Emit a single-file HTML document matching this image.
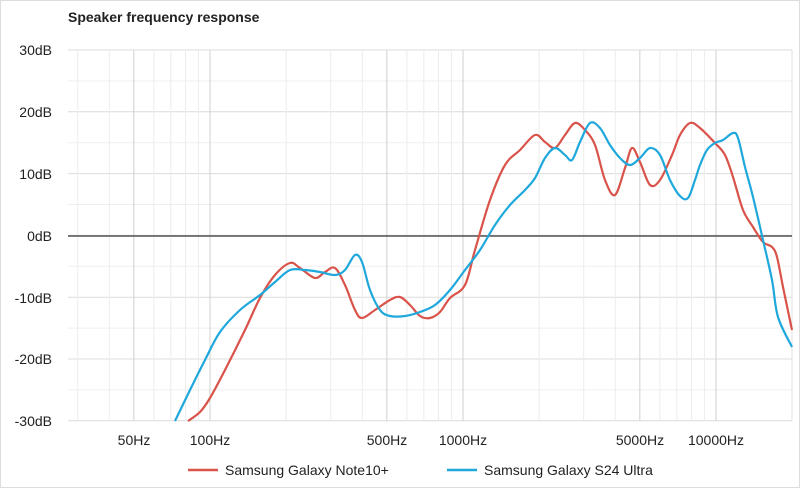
<!DOCTYPE html>
<html><head><meta charset="utf-8"><style>
body{margin:0;background:#fff}
svg{display:block;font-family:"Liberation Sans",Arial,sans-serif}
</style></head><body>
<svg width="800" height="488" viewBox="0 0 800 488">
<rect x="0" y="0" width="800" height="488" fill="#fff"/>
<rect x="0.5" y="0.5" width="799" height="487" fill="none" stroke="#ddd"/>
<text x="68" y="22" font-size="14" font-weight="bold" fill="#222">Speaker frequency response</text>
<g id="grid"></g>
<g font-size="14" fill="#222" text-anchor="end">
<text x="52" y="55">30dB</text><text x="52" y="117">20dB</text><text x="52" y="179">10dB</text>
<text x="52" y="241">0dB</text><text x="52" y="303">-10dB</text><text x="52" y="364">-20dB</text><text x="52" y="426">-30dB</text>
</g>
<g font-size="14" fill="#222" text-anchor="middle">
<text x="134" y="445">50Hz</text><text x="210" y="445">100Hz</text><text x="387" y="445">500Hz</text>
<text x="463" y="445">1000Hz</text><text x="640" y="445">5000Hz</text><text x="716" y="445">10000Hz</text>
</g>
<line x1="68" y1="236" x2="792" y2="236" stroke="#333" stroke-width="1.2"/>
<path id="red" fill="none" stroke="#d9534a" stroke-width="2.2"/>
<path id="blue" fill="none" stroke="#1ea8dc" stroke-width="2.2"/>
<line x1="188" y1="470" x2="218" y2="470" stroke="#d9534a" stroke-width="2.5"/>
<text x="225" y="475" font-size="14" fill="#222">Samsung Galaxy Note10+</text>
<line x1="447" y1="470" x2="477" y2="470" stroke="#1ea8dc" stroke-width="2.5"/>
<text x="484" y="475" font-size="14" fill="#222">Samsung Galaxy S24 Ultra</text>
</svg>
<script>
var ns="http://www.w3.org/2000/svg",g=document.getElementById("grid");
function L(x1,y1,x2,y2,c){var l=document.createElementNS(ns,"line");l.setAttribute("x1",x1);l.setAttribute("y1",y1);l.setAttribute("x2",x2);l.setAttribute("y2",y2);l.setAttribute("stroke",c);g.appendChild(l);}
for(var i=0;i<=12;i++){var y=50+i*30.9;L(68,y,792,y,i%2?"#efefef":"#dcdcdc");}
function X(f){return 210+253*Math.log10(f/100);}
[20,30,40,50,60,70,80,90].forEach(function(m){[1,10,100].forEach(function(d){var f=m*d;if(f<30||f>20000)return;
var x=X(f);L(x,50,x,421,(m==50||m==100)?"#d0d0d0":"#ececec");});});
[100,1000,10000].forEach(function(f){var x=X(f);L(x,50,x,421,"#d0d0d0");});
L(792,50,792,421,"#e0e0e0");
function path(p){var d="M"+p[0][0]+","+p[0][1];for(var i=0;i<p.length-1;i++){var p0=p[i-1]||p[i],p1=p[i],p2=p[i+1],p3=p[i+2]||p2;
d+=" C"+(p1[0]+(p2[0]-p0[0])/6)+","+(p1[1]+(p2[1]-p0[1])/6)+" "+(p2[0]-(p3[0]-p1[0])/6)+","+(p2[1]-(p3[1]-p1[1])/6)+" "+p2[0]+","+p2[1];}return d;}
var red=[[188,421],[200,412],[210,398],[225,370],[245,330],[260,298],[275,275],[290,263],[300,268],[315,278],[325,272],[335,268],[345,285],[355,310],[362,318],[375,310],[390,300],[400,297],[410,305],[420,316],[430,318],[440,312],[450,298],[465,285],[475,250],[490,200],[505,165],[520,150],[535,135],[545,142],[555,148],[565,135],[575,123],[585,130],[595,145],[605,180],[615,195],[625,168],[632,148],[640,162],[650,185],[660,180],[672,155],[680,135],[690,123],[700,128],[715,143],[725,155],[733,177],[743,210],[753,227],[763,242],[772,247],[777,257],[783,287],[792,330]];
var blue=[[175,421],[190,390],[205,360],[220,332],[240,310],[260,295],[275,282],[290,270],[305,270],[320,272],[335,275],[345,270],[355,255],[362,262],[370,290],[380,310],[390,316],[405,316],[420,312],[435,305],[450,290],[465,270],[480,250],[495,225],[510,205],[525,190],[535,178],[545,158],[555,148],[565,155],[572,160],[580,142],[590,123],[600,128],[610,145],[620,158],[630,165],[640,158],[650,148],[660,155],[670,180],[680,196],[688,198],[695,180],[700,165],[707,150],[715,143],[723,140],[733,133],[738,138],[745,167],[753,197],[763,240],[772,280],[778,317],[792,347]];
document.getElementById("red").setAttribute("d",path(red));
document.getElementById("blue").setAttribute("d",path(blue));
</script>
</body></html>
